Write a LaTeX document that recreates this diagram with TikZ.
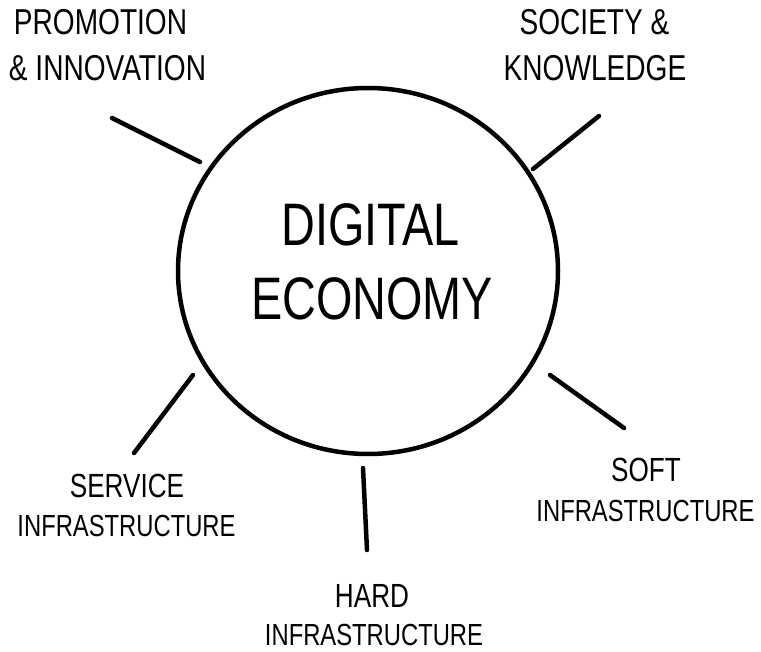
\documentclass[tikz,border=0pt]{standalone}
\usepackage{fontspec}
\setmainfont{Liberation Sans}[FakeStretch=0.78]

\tikzset{
  spoke/.style={line width=4.5pt, line cap=round},
  gross/.style={font=\fontsize{60}{72}\selectfont, anchor=base, inner sep=0pt},
  mittel/.style={font=\fontsize{36}{44}\selectfont, anchor=base, inner sep=0pt},
  klein/.style={font=\fontsize{33.5}{40}\selectfont, anchor=base, inner sep=0pt},
  infra/.style={font=\fontsize{30.5}{36}\selectfont, anchor=base, inner sep=0pt},
}

\begin{document}
\begin{tikzpicture}[x=1pt, y=-1pt]
  \useasboundingbox (0,0) rectangle (761,652);

  % Kreis
  \draw[line width=4.5pt] (368,271) ellipse [x radius=190, y radius=183];

  % Mitte
  \node[gross] (digital) at (370.5,246) {DIGITAL};
  \node[gross] (economy) at (372,320) {ECONOMY};

  % Beschriftungen
  \node[mittel] (promo) at (100.5,35) {PROMOTION};
  \node[mittel] (innov) at (107.5,81) {\& INNOVATION};
  \node[mittel] (soc)   at (594.5,35) {SOCIETY \&};
  \node[mittel] (know)  at (595,81)   {KNOWLEDGE};
  \node[klein]  (serv)  at (127,497)  {SERVICE};
  \node[infra]  (servi) at (126.5,536) {INFRASTRUCTURE};
  \node[klein]  (soft)  at (646,481)  {SOFT};
  \node[infra]  (softi) at (645.5,521) {INFRASTRUCTURE};
  \node[klein]  (hard)  at (372,607)  {HARD};
  \node[infra]  (hardi) at (374,645)  {INFRASTRUCTURE};

  % Enden der Striche
  \coordinate (pi1) at (200,162); \coordinate (pi2) at (112,118);
  \coordinate (sk1) at (533,169); \coordinate (sk2) at (599,116);
  \coordinate (si1) at (550,375); \coordinate (si2) at (624,428);
  \coordinate (hi1) at (363,468); \coordinate (hi2) at (367,550);
  \coordinate (vi1) at (193,375); \coordinate (vi2) at (134,453);

  % Striche
  \foreach \s in {pi,sk,si,hi,vi}{
    \draw[spoke] (\s1) -- (\s2);
  }

\end{tikzpicture}
\end{document}
